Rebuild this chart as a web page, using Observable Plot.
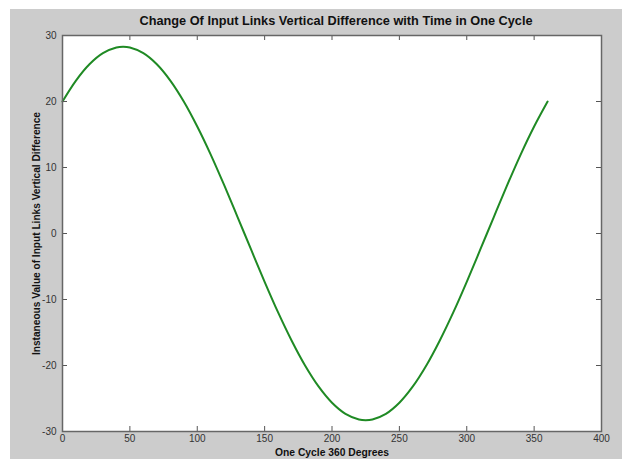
<!DOCTYPE html>
<html>
<head>
<meta charset="utf-8">
<script src="https://cdn.jsdelivr.net/npm/d3@7"></script>
<script src="https://cdn.jsdelivr.net/npm/@observablehq/plot@0.6"></script>
<style>
  body { margin: 0; background: #ffffff; }
  #wrap { position: absolute; left: 10px; top: 9px; width: 612px; height: 450px; background: #cccccc; }
  svg { display: block; }
</style>
</head>
<body>
<div id="wrap"></div>
<script>
const degrees = [0, 10, 20, 30, 40, 45, 50, 60, 70, 80, 90, 100, 110, 120, 130, 140, 150, 160, 170, 180,
  190, 200, 210, 220, 225, 230, 240, 250, 260, 270, 280, 290, 300, 310, 320, 330, 340, 350, 360];
const values = [20, 23.17, 25.64, 27.32, 28.17, 28.28, 28.17, 27.32, 25.64, 23.17, 20, 16.21, 11.96, 7.32, 2.46,
  -2.46, -7.32, -11.96, -16.21, -20, -23.17, -25.64, -27.32, -28.17, -28.28, -28.17, -27.32, -25.64, -23.17,
  -20, -16.21, -11.96, -7.32, -2.46, 2.46, 7.32, 11.96, 16.21, 20];
const xTicks = [0, 50, 100, 150, 200, 250, 300, 350, 400];
const yTicks = [-30, -20, -10, 0, 10, 20, 30];
const titleText = "Change Of Input Links Vertical Difference with Time in One Cycle";
const xLabel = "One Cycle 360 Degrees";
const yLabel = "Instaneous Value of Input Links Vertical Difference";

const data = degrees.map((d, i) => ({x: d, y: values[i]}));
const W = 612, H = 450;
const mL = 52, mR = 21, mT = 26, mB = 28;
const pw = W - mL - mR, ph = H - mT - mB;
const font = "'Liberation Sans', Arial, sans-serif";
const fmt = d => String(d);

const chart = Plot.plot({
  width: W, height: H,
  marginLeft: mL, marginRight: mR, marginTop: mT, marginBottom: mB,
  style: {background: "#cccccc", fontFamily: font, fontSize: "10px", color: "#333"},
  x: {domain: [0, 400], ticks: xTicks},
  y: {domain: [-30, 30], ticks: yTicks},
  marks: [
    Plot.frame({fill: "white", stroke: null}),
    Plot.line(data, {x: "x", y: "y", stroke: "#1f8a24", strokeWidth: 2, curve: "catmull-rom"}),
    Plot.tickX(xTicks, {x: d => d, stroke: "#555", insetTop: ph - 5}),
    Plot.tickX(xTicks, {x: d => d, stroke: "#555", insetBottom: ph - 5}),
    Plot.tickY(yTicks, {y: d => d, stroke: "#555", insetRight: pw - 5}),
    Plot.tickY(yTicks, {y: d => d, stroke: "#555", insetLeft: pw - 5}),
    Plot.frame({stroke: "#666", strokeWidth: 1.5}),
    Plot.axisX(xTicks, {tickSize: 0, tickPadding: 3, label: null, tickFormat: fmt, fill: "#333", fontSize: 10}),
    Plot.axisY(yTicks, {tickSize: 0, tickPadding: 6, label: null, tickFormat: fmt, fill: "#333", fontSize: 10}),
    Plot.text([titleText], {frameAnchor: "top", lineAnchor: "middle", dy: -15, dx: 4, fontWeight: "bold", fontSize: 12.5, fill: "#111", className: "ttl"}),
    Plot.text([xLabel], {frameAnchor: "bottom", lineAnchor: "middle", dy: 21, fontWeight: "bold", fontSize: 10.5, fill: "#111", className: "xl"}),
    Plot.text([yLabel], {frameAnchor: "left", textAnchor: "middle", lineAnchor: "middle", dx: -26, rotate: -90, fontWeight: "bold", fontSize: 10.5, fill: "#111", className: "yl"})
  ]
});
document.getElementById("wrap").appendChild(chart);
const fit = (cls, len) => {
  chart.querySelectorAll(`.${cls} text`).forEach(t => {
    t.setAttribute("textLength", len);
    t.setAttribute("lengthAdjust", "spacingAndGlyphs");
  });
};
fit("ttl", 393);
fit("xl", 114);
fit("yl", 243);
</script>
</body>
</html>
